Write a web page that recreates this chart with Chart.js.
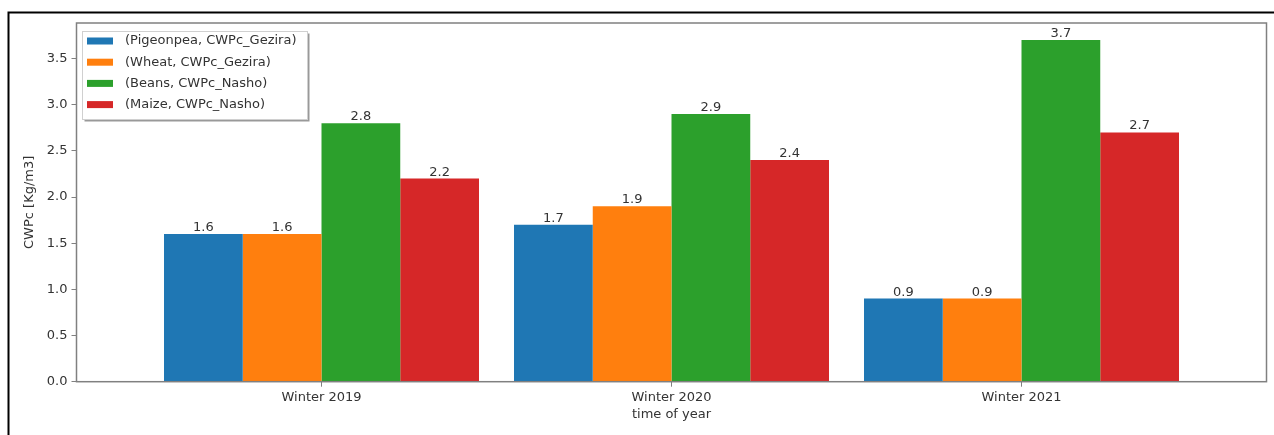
<!DOCTYPE html>
<html>
<head>
<meta charset="utf-8">
<script src="https://cdn.jsdelivr.net/npm/chart.js@4"></script>
<style>
    body { margin: 0; background: #fff; }
    canvas { display: block; }
</style>
</head>
<body>
<canvas id="chart" width="1274" height="435"></canvas>
<script>
const seasons = ["Winter 2019", "Winter 2020", "Winter 2021"];
const seriesNames = [
    "(Pigeonpea, CWPc_Gezira)",
    "(Wheat, CWPc_Gezira)",
    "(Beans, CWPc_Nasho)",
    "(Maize, CWPc_Nasho)"
];
const pigeonpeaGezira = [1.6, 1.7, 0.9];
const wheatGezira = [1.6, 1.9, 0.9];
const beansNasho = [2.8, 2.9, 3.7];
const maizeNasho = [2.2, 2.4, 2.7];
const yTicks = [0, 0.5, 1, 1.5, 2, 2.5, 3, 3.5];

const colors = ["#1f77b4", "#ff7f0e", "#2ca02c", "#d62728"];
const textColor = "#333";
const axisColor = "#808080";
const font = { family: "DejaVu Sans", size: 13 };

Chart.defaults.font.family = font.family;
Chart.defaults.font.size = font.size;
Chart.defaults.color = textColor;

const toPoints = values => values.map((y, x) => ({ x, y }));

// outer frame around the figure and the box around the axes
const framePlugin = {
    id: "frame",
    beforeDraw: chart => {
        const ctx = chart.ctx;
        ctx.save();
        ctx.fillStyle = "#fff";
        ctx.fillRect(0, 0, chart.width, chart.height);
        ctx.strokeStyle = "#000";
        ctx.lineWidth = 2;
        ctx.beginPath();
        ctx.moveTo(chart.width, 12.5);
        ctx.lineTo(8.5, 12.5);
        ctx.lineTo(8.5, chart.height);
        ctx.stroke();
        ctx.restore();
    },
    afterDraw: chart => {
        const { left, top, right, bottom } = chart.chartArea;
        const ctx = chart.ctx;
        ctx.save();
        ctx.strokeStyle = axisColor;
        ctx.lineWidth = 1.5;
        ctx.strokeRect(left, top, right - left, bottom - top);
        ctx.restore();
    }
};

// value printed above each bar
const valueLabelPlugin = {
    id: "valueLabels",
    afterDatasetsDraw: chart => {
        const ctx = chart.ctx;
        ctx.save();
        ctx.font = font.size + "px " + font.family;
        ctx.fillStyle = textColor;
        ctx.textAlign = "center";
        ctx.textBaseline = "alphabetic";
        chart.data.datasets.forEach((dataset, i) => {
            chart.getDatasetMeta(i).data.forEach((bar, j) => {
                ctx.fillText(dataset.data[j].y.toFixed(1), bar.x, bar.y - 3);
            });
        });
        ctx.restore();
    }
};

// legend box in the upper left corner, with a drop shadow
const legendBoxPlugin = {
    id: "legendBox",
    afterDraw: chart => {
        const ctx = chart.ctx;
        const x = 82.5, y = 31.5, w = 225, h = 88;
        ctx.save();
        ctx.fillStyle = "rgba(0, 0, 0, 0.4)";
        ctx.fillRect(x + 2, y + 2, w, h);
        ctx.fillStyle = "#fff";
        ctx.fillRect(x, y, w, h);
        ctx.strokeStyle = "#d0d0d0";
        ctx.lineWidth = 1;
        ctx.strokeRect(x, y, w, h);
        ctx.font = font.size + "px " + font.family;
        ctx.textBaseline = "middle";
        chart.data.datasets.forEach((dataset, i) => {
            const cy = 41 + i * 21.2;
            ctx.fillStyle = dataset.backgroundColor;
            ctx.fillRect(87, cy - 3.5, 26, 7);
            ctx.fillStyle = textColor;
            ctx.fillText(dataset.label, 125, cy);
        });
        ctx.restore();
    }
};

const seriesValues = [pigeonpeaGezira, wheatGezira, beansNasho, maizeNasho];

new Chart(document.getElementById("chart"), {
    type: "bar",
    data: {
        datasets: seriesValues.map((values, i) => ({
            label: seriesNames[i],
            data: toPoints(values),
            backgroundColor: colors[i],
            borderWidth: 0,
            categoryPercentage: 0.9,
            barPercentage: 1
        }))
    },
    options: {
        responsive: false,
        animation: false,
        devicePixelRatio: 1,
        layout: { padding: { left: 0, top: 23, right: 7.5, bottom: 0 } },
        plugins: {
            legend: { display: false },
            tooltip: { enabled: false }
        },
        scales: {
            x: {
                type: "linear",
                min: -0.7,
                max: 2.7,
                offset: false,
                grid: { offset: false, drawOnChartArea: false, drawTicks: true, tickLength: 5, color: axisColor },
                border: { display: false },
                afterBuildTicks: scale => {
                    scale.ticks = seasons.map((_, i) => ({ value: i }));
                },
                ticks: {
                    padding: 3,
                    maxRotation: 0,
                    callback: value => seasons[value]
                },
                title: {
                    display: true,
                    text: "time of year",
                    padding: { top: 0, bottom: 13 }
                },
                afterFit: scale => { scale.height = 53.3; }
            },
            y: {
                min: 0,
                max: 3.885,
                grid: { drawOnChartArea: false, drawTicks: true, tickLength: 5, color: axisColor },
                border: { display: false },
                afterBuildTicks: scale => {
                    scale.ticks = yTicks.map(value => ({ value }));
                },
                ticks: {
                    padding: 4,
                    callback: value => value.toFixed(1)
                },
                title: {
                    display: true,
                    text: "CWPc [Kg/m3]",
                    padding: { top: 22, bottom: 0 }
                },
                afterFit: scale => { scale.width = 76.5; }
            }
        }
    },
    plugins: [framePlugin, valueLabelPlugin, legendBoxPlugin]
});
</script>
</body>
</html>
